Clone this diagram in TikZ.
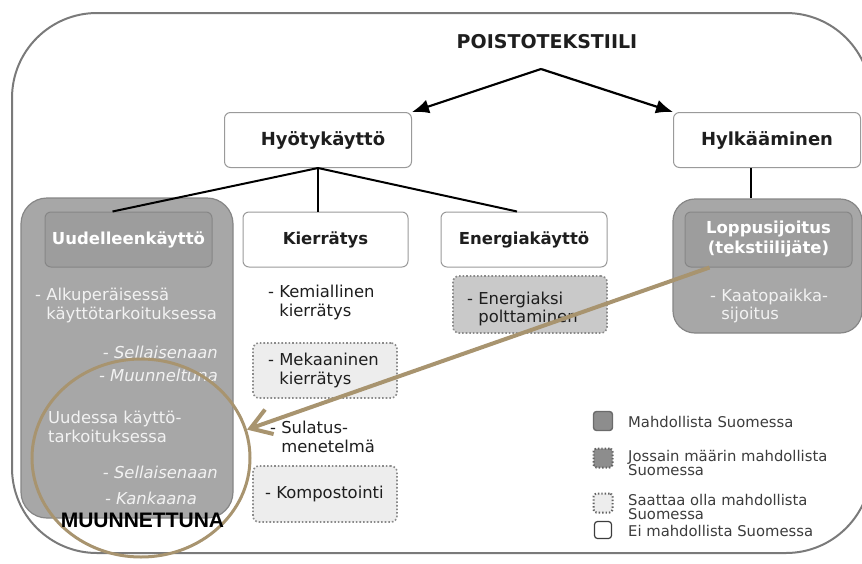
\documentclass[tikz,border=0pt]{standalone}
\usepackage{fontspec}
\setmainfont{DejaVu Sans}
\newfontfamily\arialfont{Liberation Sans}
\usetikzlibrary{shapes.geometric, arrows.meta, positioning, calc}
\usepackage{xcolor}
\definecolor{FrameGrey}{HTML}{7A7A7A}
\definecolor{BoxEdge}{HTML}{9A9A9A}
\definecolor{KeepGrey}{HTML}{A7A7A7}
\definecolor{KeepInner}{HTML}{9D9D9D}
\definecolor{KeepEdge}{HTML}{868686}
\definecolor{SomeGrey}{HTML}{C9C9C9}
\definecolor{MaybeGrey}{HTML}{EDEDED}
\definecolor{DotEdge}{HTML}{8A8A8A}
\definecolor{TanLine}{HTML}{A8946F}
\definecolor{PaleText}{HTML}{F2F2F2}
\definecolor{InkText}{HTML}{1E1E1E}
\definecolor{LegendText}{HTML}{3C3C3C}
\tikzset{
    % Box styles
    headbox/.style={
        rectangle,
        rounded corners=6pt,
        draw=BoxEdge,
        fill=white,
        line width=1pt,
        align=center,
        text=InkText,
        font=\bfseries\fontsize{16.5}{19}\selectfont
    },
    possiblebox/.style={
        rectangle,
        rounded corners=26pt,
        draw=KeepEdge,
        fill=KeepGrey,
        line width=1.2pt
    },
    possiblehead/.style={
        rectangle,
        rounded corners=6pt,
        draw=KeepEdge,
        fill=KeepInner,
        line width=1pt,
        align=center,
        text=white,
        font=\bfseries\fontsize{16.5}{20}\selectfont
    },
    partlybox/.style={
        rectangle,
        rounded corners=6pt,
        draw=DotEdge,
        fill=SomeGrey,
        line width=1.6pt,
        dotted
    },
    maybebox/.style={
        partlybox,
        fill=MaybeGrey
    },
    % Text styles
    itemtext/.style={
        align=left,
        inner sep=0pt,
        text=InkText,
        font=\fontsize{16.4}{18.5}\selectfont
    },
    paleitem/.style={
        itemtext,
        text=PaleText
    },
    paleitalic/.style={
        paleitem,
        font=\itshape\fontsize{16.4}{18.5}\selectfont
    },
    legendsq/.style={
        rectangle,
        rounded corners=3pt,
        minimum size=19pt,
        inner sep=0pt,
        line width=1.4pt
    },
    legendtext/.style={
        align=left,
        inner sep=0pt,
        anchor=west,
        text=LegendText,
        font=\fontsize{14.8}{14.5}\selectfont
    },
    % Arrow styles
    arrow/.style={
        -{Latex[length=17pt, width=14pt]},
        line width=2.2pt,
        draw=black
    },
    branch/.style={
        line width=2pt,
        draw=black
    },
    tanarrow/.style={
        -{Straight Barb[length=20pt, width=26pt]},
        line width=4pt,
        draw=TanLine
    }
}

\begin{document}
\begin{tikzpicture}[x=1pt, y=-1pt]
    \useasboundingbox (0,0) rectangle (862,563);
    \draw[FrameGrey, line width=2pt, rounded corners=85pt] (12,13) rectangle (871,553);

    \node[font=\bfseries\fontsize{19}{22}\selectfont, text=InkText] (root) at (547,42) {POISTOTEKSTIILI};
    \coordinate (split) at (541,69);

    \node[headbox, font=\bfseries\fontsize{18}{20}\selectfont, minimum width=187pt, minimum height=55pt] (hyoty) at (318,140) {\hspace*{10pt}Hyötykäyttö};
    \node[headbox, font=\bfseries\fontsize{18}{20}\selectfont, minimum width=187pt, minimum height=55pt] (hylk) at (767,140) {Hylkääminen};

    % Uudelleenkäyttö column
    \node[possiblebox, minimum width=212pt, minimum height=320pt] (reuse) at (127,358) {};
    \node[possiblehead, minimum width=167pt, minimum height=55pt] (reusehead) at (128.5,239.5) {Uudelleenkäyttö};
    \node[paleitem, anchor=west] (orig) at (35,305.5) {- Alkuperäisessä\\\phantom{- }käyttötarkoituksessa};
    \node[paleitalic, anchor=east] (origsame) at (218,352) {- Sellaisenaan};
    \node[paleitalic, anchor=east] (origmod) at (218,375) {- Muunneltuna};
    \node[paleitem, anchor=west] (newuse) at (48,427) {Uudessa käyttö-\\tarkoituksessa};
    \node[paleitalic, anchor=east] (newsame) at (218,472) {- Sellaisenaan};
    \node[paleitalic, anchor=east] (newcloth) at (197,498) {- Kankaana};

    % Kierrätys column
    \node[headbox, minimum width=165pt, minimum height=55pt] (kierr) at (325.5,239.5) {Kierrätys};
    \node[itemtext, anchor=west] (chem) at (268,302.5) {- Kemiallinen\\\phantom{- }kierrätys};
    \node[maybebox, minimum width=144pt, minimum height=55pt] (mechbox) at (325,370.5) {};
    \node[itemtext, anchor=west] (mech) at (268,370.5) {- Mekaaninen\\\phantom{- }kierrätys};
    \node[itemtext, anchor=west] (melt) at (270,437) {- Sulatus-\\\phantom{- }menetelmä};
    \node[maybebox, minimum width=144pt, minimum height=56pt] (compbox) at (325,494) {};
    \node[itemtext, anchor=west] (comp) at (265,494) {- Kompostointi};

    % Energiakäyttö column
    \node[headbox, minimum width=166pt, minimum height=55pt] (energy) at (524,239.5) {Energiakäyttö};
    \node[partlybox, minimum width=154pt, minimum height=57pt] (burnbox) at (530,304.5) {};
    \node[itemtext, anchor=west] (burn) at (467,309) {- Energiaksi\\\phantom{- }polttaminen};

    % Loppusijoitus column
    \node[possiblebox, rounded corners=22pt, minimum width=189pt, minimum height=134pt] (dispose) at (767.5,266) {};
    \node[possiblehead, minimum width=167pt, minimum height=55pt] (disposehead) at (768.5,239.5) {Loppusijoitus\\(tekstiilijäte)};
    \node[paleitem, anchor=west] (landfill) at (710,306) {- Kaatopaikka-\\\phantom{- }sijoitus};

    \draw[arrow] (split) -- (hyoty.north east);
    \draw[arrow] (split) -- (hylk.north west);
    \draw[branch] (hyoty.south) -- ([xshift=-16pt]reusehead.north);
    \draw[branch] (hyoty.south) -- (hyoty.south |- kierr.north);
    \draw[branch] (hyoty.south) -- ([xshift=-7pt]energy.north);
    \draw[branch] ([xshift=-16pt]hylk.south) -- ([xshift=-16pt]hylk.south |- dispose.north);

    % Legend
    \node[legendsq, draw=KeepEdge!80!black, fill=KeepInner!90!black] (leg1) at (603,421) {};
    \node[legendsq, draw=DotEdge!70!black, fill=KeepInner!90!black, dotted, line width=2pt] (leg2) at (603,458) {};
    \node[legendsq, draw=DotEdge!70!black, fill=MaybeGrey, dotted, line width=2pt] (leg3) at (603,503) {};
    \node[legendsq, draw=LegendText, fill=white, line width=1.2pt, minimum size=17pt] (leg4) at (603,530) {};
    \node[legendtext] (legtext1) at (628,422) {Mahdollista Suomessa};
    \node[legendtext] (legtext2) at (628,463) {Jossain määrin mahdollista\\Suomessa};
    \node[legendtext] (legtext3) at (628,507) {Saattaa olla mahdollista\\Suomessa};
    \node[legendtext] (legtext4) at (628,531) {Ei mahdollista Suomessa};

    % Highlight
    \node[ellipse, draw=TanLine, line width=3pt, minimum width=218pt, minimum height=198pt, inner sep=0pt] (circ) at (141,458) {};
    \draw[tanarrow] ([xshift=25pt]disposehead.south west) -- (circ.15);
    \node[font=\arialfont\bfseries\fontsize{21}{21}\selectfont, text=black] (newform) at (142.5,520) {MUUNNETTUNA};
\end{tikzpicture}
\end{document}
